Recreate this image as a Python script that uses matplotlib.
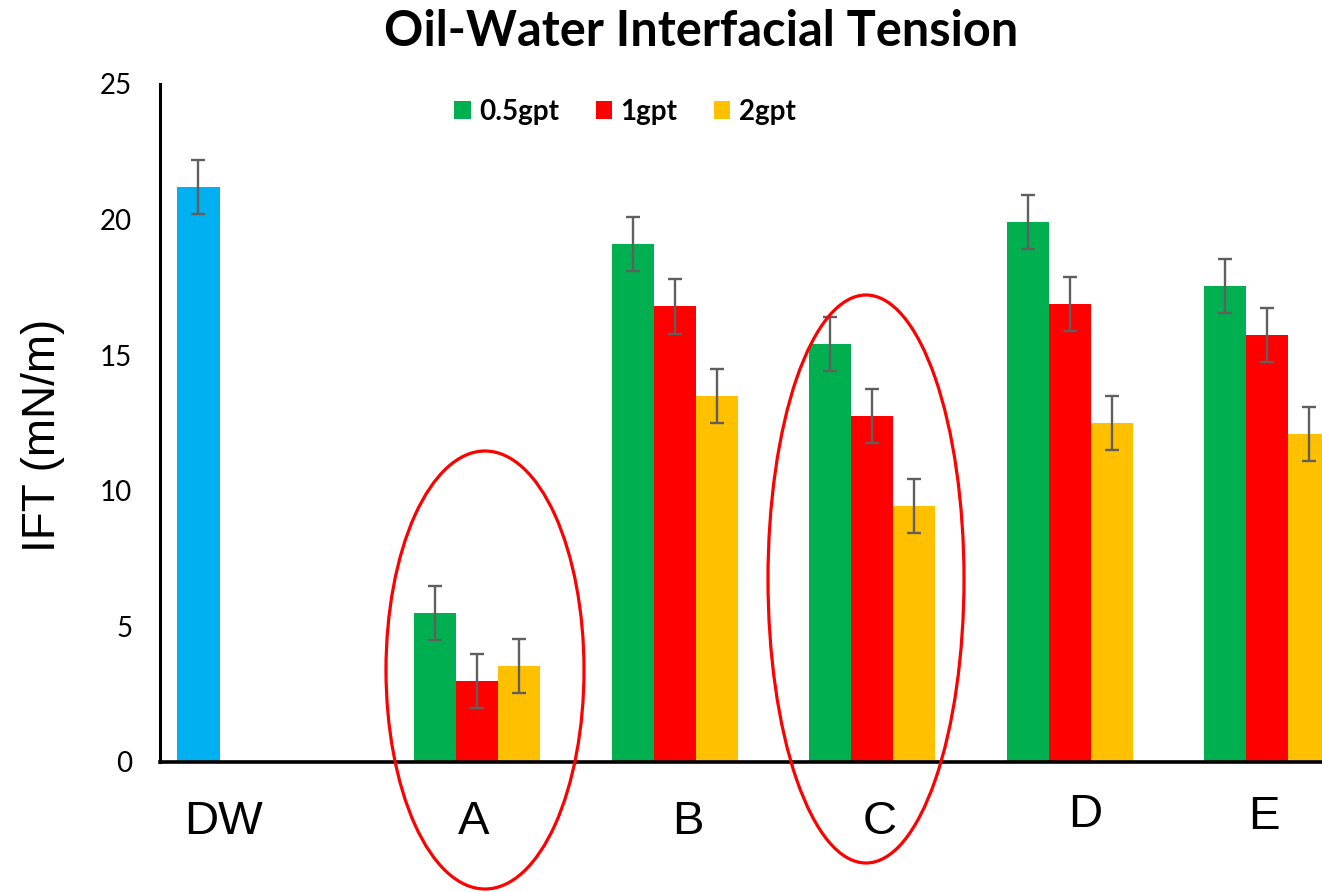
import matplotlib
matplotlib.use("Agg")
import matplotlib.pyplot as plt
from matplotlib.patches import Ellipse, Patch
import numpy as np

# ---- data ----
categories = ["DW", "A", "B", "C", "D", "E"]
series = ["0.5gpt", "1gpt", "2gpt"]
dw_value = 21.2
dw_err = 1.0
vals_05 = [5.5, 19.1, 15.4, 19.9, 17.55]
vals_1 = [3.0, 16.8, 12.75, 16.9, 15.75]
vals_2 = [3.55, 13.5, 9.45, 12.5, 12.1]
err = 1.0
yticks = [0, 5, 10, 15, 20, 25]

colors = ["#00B050", "#FF0000", "#FFC000"]
dw_color = "#00B0F0"
err_color = "#5F5F5F"

W, H = 1322, 892
fig = plt.figure(figsize=(W / 100, H / 100), dpi=100)
ax = fig.add_axes([160 / W, 1 - 762 / H, 1 - 160 / W, (762 - 84) / H])

# x in units of group spacing (197 px), origin at the y axis
group_x = np.array([1.609, 2.614, 3.614, 4.619, 5.619])
bw = 0.213
ebkw = dict(ecolor=err_color, elinewidth=1.7, capsize=5, capthick=1.7)

ax.bar([0.195], [dw_value], width=0.218, color=dw_color,
       yerr=[dw_err], error_kw=ebkw, zorder=2)
for i, (vals, c) in enumerate(zip([vals_05, vals_1, vals_2], colors)):
    ax.bar(group_x + (i - 1) * bw, vals, width=bw, color=c,
           yerr=[err] * len(vals), error_kw=ebkw, zorder=2, label=series[i])

ax.set_xlim(0, (W - 160) / 197)
ax.set_ylim(0, 25)
ax.set_yticks(yticks)
ax.set_xticks([])
for s in ["top", "right"]:
    ax.spines[s].set_visible(False)
ax.spines["left"].set_linewidth(2.2)
ax.spines["bottom"].set_linewidth(2.6)
ax.tick_params(axis="y", length=0, pad=20, labelsize=20)
for lab in ax.get_yticklabels():
    lab.set_fontfamily("Lato")

# category labels
lab_px = [(223, 822), (474, 822), (688, 822), (880, 822), (1085, 815), (1264, 817)]
for name, (px, py) in zip(categories, lab_px):
    fig.text(px / W, 1 - py / H, name, ha="center", va="center",
             fontsize=34, family="Liberation Sans")

# ellipses
ax.add_patch(Ellipse(((485 - 160) / 197, (762 - 670) / 27.12), 198 / 197, 438 / 27.12,
                     fill=False, edgecolor="#FF0000", lw=2.3, clip_on=False, zorder=3))
ax.add_patch(Ellipse(((866 - 160) / 197, (762 - 579) / 27.12), 196 / 197, 568 / 27.12,
                     fill=False, edgecolor="#FF0000", lw=2.3, clip_on=False, zorder=3))

# title
fig.text(701 / W, 1 - 32 / H, "Oil-Water Interfacial Tension", ha="center", va="center",
         fontsize=35, fontweight="bold", family="Lato")

# y label
fig.text(43 / W, 1 - 435 / H, "IFT (mN/m)", ha="center", va="center", rotation=90,
         fontsize=33, family="Liberation Sans")

# legend
handles = [Patch(facecolor=c, edgecolor="none") for c in colors]
fig.legend(handles, series, loc="center", bbox_to_anchor=(625 / W, 1 - 112 / H),
           ncol=3, frameon=False, prop=dict(family="Lato", weight="bold", size=20),
           handlelength=0.6, handleheight=0.6, handletextpad=0.3, columnspacing=1.3)

fig.savefig("out.png", dpi=100)
